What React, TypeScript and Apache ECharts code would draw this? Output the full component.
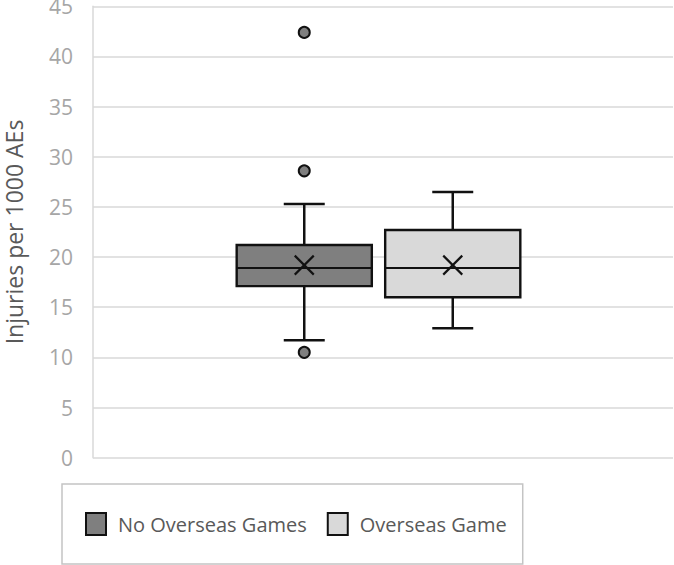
import React, { useEffect, useRef } from "react";
import * as echarts from "echarts";

const groups = ["No Overseas Games", "Overseas Game"];
const whiskerLow = [11.7, 12.9];
const q1 = [17.1, 16.0];
const median = [18.9, 18.9];
const q3 = [21.2, 22.7];
const whiskerHigh = [25.3, 26.5];
const mean = [19.2, 19.2];
const outlierGroup = [0, 0, 0];
const outlierValue = [42.4, 28.6, 10.5];
const fills = ["#7f7f7f", "#d9d9d9"];
const yMin = 0;
const yMax = 45;
const yStep = 5;

const FONT = "'Open Sans', 'DejaVu Sans', sans-serif";
const STROKE = "#111111";

const renderBox = (params: any, api: any) => {
  const x = api.value(0);
  const lo = api.coord([x, api.value(1)]);
  const b1 = api.coord([x, api.value(2)]);
  const md = api.coord([x, api.value(3)]);
  const b3 = api.coord([x, api.value(4)]);
  const hi = api.coord([x, api.value(5)]);
  const mn = api.coord([x, api.value(6)]);
  const band = api.size([1, 0])[0];
  const hw = band * 0.455;
  const hc = band * 0.138;
  const cx = lo[0];
  const fill = api.visual("color");
  const ws = { stroke: STROKE, lineWidth: 2.5 };
  const xs = 9.5;
  return {
    type: "group",
    children: [
      { type: "line", shape: { x1: cx, y1: b3[1], x2: cx, y2: hi[1] }, style: ws },
      { type: "line", shape: { x1: cx - hc, y1: hi[1], x2: cx + hc, y2: hi[1] }, style: ws },
      { type: "line", shape: { x1: cx, y1: b1[1], x2: cx, y2: lo[1] }, style: ws },
      { type: "line", shape: { x1: cx - hc, y1: lo[1], x2: cx + hc, y2: lo[1] }, style: ws },
      {
        type: "rect",
        shape: { x: cx - hw, y: b3[1], width: 2 * hw, height: b1[1] - b3[1] },
        style: { fill, stroke: STROKE, lineWidth: 2.4 },
      },
      { type: "line", shape: { x1: cx - hw, y1: md[1], x2: cx + hw, y2: md[1] }, style: { stroke: STROKE, lineWidth: 2 } },
      { type: "line", shape: { x1: cx - xs, y1: mn[1] - xs, x2: cx + xs, y2: mn[1] + xs }, style: { stroke: STROKE, lineWidth: 2.2 } },
      { type: "line", shape: { x1: cx - xs, y1: mn[1] + xs, x2: cx + xs, y2: mn[1] - xs }, style: { stroke: STROKE, lineWidth: 2.2 } },
    ],
  };
};

export default function App() {
  const ref = useRef<HTMLDivElement>(null);
  useEffect(() => {
    if (!ref.current) return;
    const chart = echarts.init(ref.current, undefined, { renderer: "svg" });
    const boxSeries = groups.map((g, i) => ({
      type: "custom",
      name: g,
      xAxisIndex: 1,
      yAxisIndex: 1,
      renderItem: renderBox,
      itemStyle: { color: fills[i] },
      encode: { x: 0, y: [1, 2, 3, 4, 5, 6] },
      data: [[i, whiskerLow[i], q1[i], median[i], q3[i], whiskerHigh[i], mean[i]]],
      z: 3,
    }));
    chart.setOption({
      animation: false,
      backgroundColor: "#ffffff",
      grid: [
        { left: 93, right: 1, top: 6.3, bottom: 107.3, outerBoundsMode: "none", containLabel: false },
        { left: 230, width: 297, top: 6.3, bottom: 107.3, outerBoundsMode: "none", containLabel: false },
      ],
      xAxis: [
        { gridIndex: 0, type: "category", data: [""], show: false },
        { gridIndex: 1, type: "category", data: groups, show: false },
      ],
      yAxis: [
        {
          gridIndex: 0,
          type: "value",
          min: yMin,
          max: yMax,
          interval: yStep,
          name: "Injuries per 1000 AEs",
          nameLocation: "middle",
          nameGap: 68,
          nameTextStyle: { fontSize: 23, color: "#595959", fontFamily: FONT },
          axisLine: { show: true, lineStyle: { color: "#d9d9d9", width: 1.5 } },
          axisTick: { show: false },
          axisLabel: { color: "#a6a6a6", fontSize: 21, margin: 20, fontFamily: FONT },
          splitLine: { show: true, lineStyle: { color: "#d9d9d9", width: 1.5 } },
        },
        {
          gridIndex: 1,
          type: "value",
          min: yMin,
          max: yMax,
          interval: yStep,
          show: false,
          splitLine: { show: false },
        },
      ],
      legend: {
        left: 62,
        top: 484,
        orient: "horizontal",
        icon: "rect",
        itemWidth: 20,
        itemHeight: 22,
        itemGap: 20,
        padding: [28, 16, 28, 23],
        borderColor: "#c4c4c4",
        borderWidth: 1.5,
        textStyle: { fontSize: 20, color: "#595959", fontFamily: FONT, padding: [0, 0, 0, 7] },
        data: groups.map((g, i) => ({
          name: g,
          itemStyle: { color: fills[i], borderColor: STROKE, borderWidth: 2 },
        })),
      },
      series: [
        ...boxSeries,
        {
          type: "scatter",
          name: groups[0],
          xAxisIndex: 1,
          yAxisIndex: 1,
          symbol: "circle",
          symbolSize: 11,
          itemStyle: { color: fills[0], borderColor: STROKE, borderWidth: 2, opacity: 1 },
          data: outlierGroup.map((g, i) => [g, outlierValue[i]]),
          z: 5,
        },
      ],
    });
    return () => chart.dispose();
  }, []);
  return (
    <div
      ref={ref}
      style={{ position: "absolute", left: 0, top: 0, width: 674, height: 565 }}
    />
  );
}
